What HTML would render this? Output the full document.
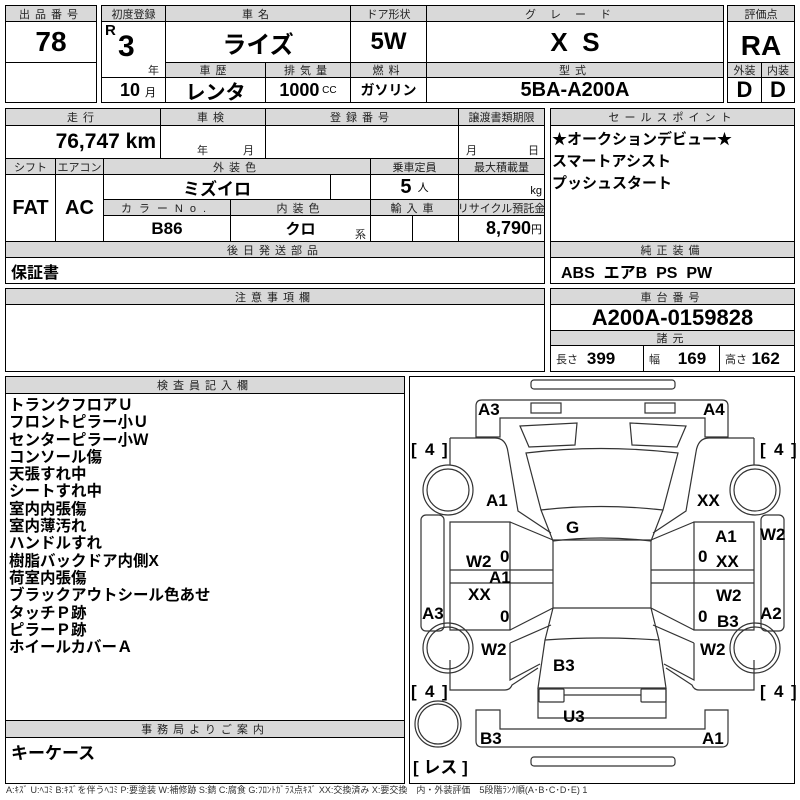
<!DOCTYPE html>
<html><head><meta charset="utf-8"><style>
body{margin:0;width:800px;height:800px;background:#fff;position:relative;overflow:hidden;font-family:"Liberation Sans","Noto Sans CJK JP",sans-serif;}
.b{position:absolute;border:1px solid #000;box-sizing:border-box;display:flex;align-items:center;justify-content:center;white-space:nowrap;}
.h{background:#d9d9d9;font-size:11px;letter-spacing:5px;color:#222;}
.v{font-weight:bold;font-family:"Liberation Sans Narrow","Liberation Sans","Noto Sans CJK JP",sans-serif;}
.t{position:absolute;white-space:nowrap;}
.s{font-size:11px;color:#222;}
svg text{font-family:"Liberation Sans","Noto Sans CJK JP",sans-serif;font-weight:bold;font-size:17px;}
</style></head><body>
<!-- top -->
<div class="b h" style="left:5px;top:5px;width:92px;height:17px">出品番号</div>
<div class="b v" style="left:5px;top:21px;width:92px;height:42px;font-size:28px">78</div>
<div class="b" style="left:5px;top:62px;width:92px;height:41px"></div>
<div class="b h" style="left:101px;top:5px;width:65px;height:17px;letter-spacing:0">初度登録</div>
<div class="b" style="left:101px;top:21px;width:65px;height:57px"></div>
<div class="t v" style="left:105px;top:22px;font-size:15px">R</div>
<div class="t v" style="left:118px;top:30px;font-size:30px">3</div>
<div class="t s" style="left:148px;top:62px">年</div>
<div class="b" style="left:101px;top:77px;width:65px;height:26px"></div>
<div class="t v" style="left:120px;top:80px;font-size:18px">10 <span style="font-size:11px;font-weight:normal">月</span></div>
<div class="b h" style="left:165px;top:5px;width:186px;height:17px">車名</div>
<div class="b v" style="left:165px;top:21px;width:186px;height:42px;font-size:24px">ライズ</div>
<div class="b h" style="left:350px;top:5px;width:77px;height:17px;letter-spacing:0">ドア形状</div>
<div class="b v" style="left:350px;top:21px;width:77px;height:42px;font-size:24px">5W</div>
<div class="b h" style="left:426px;top:5px;width:298px;height:17px;letter-spacing:14px">グレード</div>
<div class="b v" style="left:426px;top:21px;width:298px;height:42px;font-size:26px">X&nbsp;&nbsp;S</div>
<div class="b h" style="left:165px;top:62px;width:101px;height:16px">車歴</div>
<div class="b h" style="left:265px;top:62px;width:86px;height:16px">排気量</div>
<div class="b h" style="left:350px;top:62px;width:77px;height:16px">燃料</div>
<div class="b h" style="left:426px;top:62px;width:298px;height:16px">型式</div>
<div class="b v" style="left:165px;top:77px;width:101px;height:26px;font-size:20px">レンタ</div>
<div class="b v" style="left:265px;top:77px;width:86px;height:26px;font-size:18px">1000 <span style="font-size:10px;font-weight:normal">&nbsp;CC</span></div>
<div class="b v" style="left:350px;top:77px;width:77px;height:26px;font-size:14px">ガソリン</div>
<div class="b v" style="left:426px;top:77px;width:298px;height:26px;font-size:20px">5BA-A200A</div>
<div class="b h" style="left:727px;top:5px;width:68px;height:17px;letter-spacing:0">評価点</div>
<div class="b v" style="left:727px;top:21px;width:68px;height:42px;font-size:28px;padding-top:8px">RA</div>
<div class="b h" style="left:727px;top:62px;width:35px;height:16px;letter-spacing:0">外装</div>
<div class="b h" style="left:761px;top:62px;width:34px;height:16px;letter-spacing:0">内装</div>
<div class="b v" style="left:727px;top:77px;width:35px;height:26px;font-size:22px">D</div>
<div class="b v" style="left:761px;top:77px;width:34px;height:26px;font-size:22px">D</div>

<!-- section 2 -->
<div class="b h" style="left:5px;top:108px;width:156px;height:18px">走行</div>
<div class="b h" style="left:160px;top:108px;width:106px;height:18px">車検</div>
<div class="b h" style="left:265px;top:108px;width:194px;height:18px">登録番号</div>
<div class="b h" style="left:458px;top:108px;width:87px;height:18px;letter-spacing:0">譲渡書類期限</div>
<div class="b v" style="left:5px;top:125px;width:156px;height:34px;font-size:21px;justify-content:flex-end;padding-right:4px">76,747 km</div>
<div class="b" style="left:160px;top:125px;width:106px;height:34px"></div>
<div class="t s" style="left:197px;top:142px">年</div><div class="t s" style="left:243px;top:142px">月</div>
<div class="b" style="left:265px;top:125px;width:194px;height:34px"></div>
<div class="b" style="left:458px;top:125px;width:87px;height:34px"></div>
<div class="t s" style="left:466px;top:142px">月</div><div class="t s" style="left:528px;top:142px">日</div>
<div class="b h" style="left:5px;top:158px;width:51px;height:17px;letter-spacing:0">シフト</div>
<div class="b h" style="left:55px;top:158px;width:49px;height:17px;letter-spacing:0">エアコン</div>
<div class="b h" style="left:103px;top:158px;width:268px;height:17px">外装色</div>
<div class="b h" style="left:370px;top:158px;width:89px;height:17px;letter-spacing:0">乗車定員</div>
<div class="b h" style="left:458px;top:158px;width:87px;height:17px;letter-spacing:0">最大積載量</div>
<div class="b v" style="left:5px;top:174px;width:51px;height:68px;font-size:20px">FAT</div>
<div class="b v" style="left:55px;top:174px;width:49px;height:68px;font-size:20px">AC</div>
<div class="b v" style="left:103px;top:174px;width:228px;height:26px;font-size:17px">ミズイロ</div>
<div class="b" style="left:330px;top:174px;width:41px;height:26px"></div>
<div class="b v" style="left:370px;top:174px;width:89px;height:26px;font-size:20px">5 <span style="font-size:11px;font-weight:normal">&nbsp;&nbsp;人</span></div>
<div class="b" style="left:458px;top:174px;width:87px;height:26px;justify-content:flex-end;font-size:11px;padding:8px 2px 0 0">kg</div>
<div class="b h" style="left:103px;top:199px;width:128px;height:17px;letter-spacing:7px">カラーNo.</div>
<div class="b h" style="left:230px;top:199px;width:141px;height:17px">内装色</div>
<div class="b h" style="left:370px;top:199px;width:89px;height:17px">輸入車</div>
<div class="b h" style="left:458px;top:199px;width:87px;height:17px;letter-spacing:0">リサイクル預託金</div>
<div class="b v" style="left:103px;top:215px;width:128px;height:27px;font-size:17px">B86</div>
<div class="b v" style="left:230px;top:215px;width:141px;height:27px;font-size:15px">クロ</div>
<div class="t s" style="left:355px;top:226px">系</div>
<div class="b" style="left:370px;top:215px;width:43px;height:27px"></div>
<div class="b" style="left:412px;top:215px;width:47px;height:27px"></div>
<div class="b v" style="left:458px;top:215px;width:87px;height:27px;font-size:18px;justify-content:flex-end;padding-right:2px">8,790<span style="font-size:11px;font-weight:normal">円</span></div>
<div class="b h" style="left:5px;top:241px;width:540px;height:17px">後日発送部品</div>
<div class="b" style="left:5px;top:257px;width:540px;height:27px;justify-content:flex-start;padding-left:5px;font-size:16px;font-weight:bold">保証書</div>

<!-- sales point -->
<div class="b h" style="left:550px;top:108px;width:245px;height:18px">セールスポイント</div>
<div class="b" style="left:550px;top:125px;width:245px;height:117px"></div>
<div class="t" style="left:552px;top:129px;font-size:15px;font-weight:bold;line-height:22px">★オークションデビュー★<br>スマートアシスト<br>プッシュスタート</div>
<div class="b h" style="left:550px;top:241px;width:245px;height:17px">純正装備</div>
<div class="b v" style="left:550px;top:257px;width:245px;height:27px;font-size:16px;justify-content:flex-start;padding-left:10px">ABS&nbsp; エアB&nbsp; PS&nbsp; PW</div>

<div class="b h" style="left:5px;top:288px;width:540px;height:17px">注意事項欄</div>
<div class="b" style="left:5px;top:304px;width:540px;height:68px"></div>

<div class="b h" style="left:550px;top:288px;width:245px;height:17px">車台番号</div>
<div class="b v" style="left:550px;top:304px;width:245px;height:27px;font-size:22px">A200A-0159828</div>
<div class="b h" style="left:550px;top:330px;width:245px;height:16px">諸元</div>
<div class="b" style="left:550px;top:345px;width:94px;height:27px;justify-content:flex-start;padding-left:5px"><span class="s">長さ</span>&nbsp;&nbsp;<b style="font-size:17px">399</b></div>
<div class="b" style="left:643px;top:345px;width:77px;height:27px;justify-content:flex-start;padding-left:5px"><span class="s">幅</span>&nbsp;&nbsp;&nbsp;&nbsp;<b style="font-size:17px">169</b></div>
<div class="b" style="left:719px;top:345px;width:76px;height:27px;justify-content:flex-start;padding-left:5px"><span class="s">高さ</span>&nbsp;<b style="font-size:17px">162</b></div>

<!-- inspector -->
<div class="b h" style="left:5px;top:376px;width:400px;height:18px">検査員記入欄</div>
<div class="b" style="left:5px;top:393px;width:400px;height:328px"></div>
<div class="t" style="left:9px;top:397px;font-size:15.5px;font-weight:bold;line-height:17.3px">トランクフロアＵ<br>フロントピラー小Ｕ<br>センターピラー小Ｗ<br>コンソール傷<br>天張すれ中<br>シートすれ中<br>室内内張傷<br>室内薄汚れ<br>ハンドルすれ<br>樹脂バックドア内側X<br>荷室内張傷<br>ブラックアウトシール色あせ<br>タッチＰ跡<br>ピラーＰ跡<br>ホイールカバーＡ</div>
<div class="b h" style="left:5px;top:720px;width:400px;height:18px">事務局よりご案内</div>
<div class="b" style="left:5px;top:737px;width:400px;height:47px;align-items:flex-start;justify-content:flex-start;padding:1px 5px;font-size:17px;font-weight:bold">キーケース</div>

<!-- diagram -->
<div class="b" style="left:409px;top:376px;width:386px;height:408px"></div>
<svg style="position:absolute;left:0;top:0" width="800" height="800" fill="none" stroke="#333" stroke-width="1.2">
<rect x="531" y="380" width="144" height="9" rx="3"/>
<path d="M482 400 H722 Q728 400 728 406 V437 H705 V418 H500 V437 H476 V406 Q476 400 482 400Z"/>
<rect x="531" y="403" width="30" height="10"/><rect x="645" y="403" width="30" height="10"/>
<path d="M520 426 L577 423 L575 445 L529 447Z M630 423 L686 426 L677 447 L632 445Z"/>
<path d="M526 453 Q600 444 678 453 L663 510 Q600 503 541 510Z"/>
<path d="M541 510 L553 541 Q600 535 651 541 L663 510"/>
<path d="M450 438 H495 Q506 438 508 452 L518 511 L551 533"/>
<path d="M450 438 V465"/>
<path d="M754 438 H709 Q698 438 696 452 L686 511 L653 533"/>
<path d="M754 438 V465"/>
<circle cx="448" cy="490" r="25"/><circle cx="448" cy="490" r="21"/>
<circle cx="755" cy="490" r="25"/><circle cx="755" cy="490" r="21"/>
<circle cx="448" cy="648" r="25"/><circle cx="448" cy="648" r="21"/>
<circle cx="755" cy="648" r="25"/><circle cx="755" cy="648" r="21"/>
<circle cx="438" cy="724" r="23"/><circle cx="438" cy="724" r="20"/>
<rect x="421" y="515" width="23" height="116" rx="5"/><rect x="761" y="515" width="23" height="116" rx="5"/>
<path d="M450 522 H510 V630 H450Z M450 570 H553 M450 583 H553 M510 522 L553 540 M510 630 L553 608"/>
<path d="M754 522 H694 V630 H754Z M754 570 H651 M754 583 H651 M694 522 L651 540 M694 630 L651 608"/>
<path d="M553 540 H651 V608 H553Z"/>
<path d="M553 608 L545 640 Q600 636 659 640 L651 608 M545 640 L538 688 H666 L659 640"/>
<path d="M510 643 L551 625 M510 643 V680 L540 664 M694 643 L653 625 M694 643 V680 L664 664"/>
<path d="M450 660 V690 H505 Q510 690 512 685 L538 668"/>
<path d="M754 660 V690 H699 Q694 690 692 685 L666 668"/>
<path d="M538 688 V718 H666 V688"/>
<rect x="539" y="689" width="25" height="13" rx="1"/><rect x="641" y="689" width="25" height="13" rx="1"/>
<path d="M564 695 H641"/>
<path d="M482 747 H722 Q728 747 728 741 V710 H705 V729 H500 V710 H476 V741 Q476 747 482 747Z"/>
<rect x="531" y="757" width="144" height="9" rx="3"/>
<g fill="#000" stroke="none">
<text x="478" y="415">A3</text><text x="703" y="415">A4</text>
<text x="486" y="506">A1</text><text x="697" y="506">XX</text>
<text x="566" y="533">G</text>
<text x="715" y="542">A1</text><text x="760" y="540">W2</text>
<text x="466" y="567">W2</text><text x="716" y="567">XX</text>
<text x="489" y="583">A1</text>
<text x="468" y="600">XX</text><text x="716" y="601">W2</text>
<text x="422" y="619">A3</text><text x="760" y="619">A2</text>
<text x="717" y="627">B3</text>
<text x="481" y="655">W2</text><text x="700" y="655">W2</text>
<text x="553" y="671">B3</text>
<text x="563" y="722">U3</text>
<text x="480" y="744">B3</text><text x="702" y="744">A1</text>
<text x="411" y="455" font-weight="normal">[</text><text x="425" y="455">4</text><text x="442" y="455" font-weight="normal">]</text>
<text x="760" y="455" font-weight="normal">[</text><text x="774" y="455">4</text><text x="791" y="455" font-weight="normal">]</text>
<text x="411" y="697" font-weight="normal">[</text><text x="425" y="697">4</text><text x="442" y="697" font-weight="normal">]</text>
<text x="760" y="697" font-weight="normal">[</text><text x="774" y="697">4</text><text x="791" y="697" font-weight="normal">]</text>
<text x="413" y="773" font-size="14" font-weight="normal">[ レス ]</text>
<text x="500" y="562" font-size="11" font-weight="normal">0</text><text x="500" y="622" font-size="11" font-weight="normal">0</text>
<text x="698" y="562" font-size="11" font-weight="normal">0</text><text x="698" y="622" font-size="11" font-weight="normal">0</text>
</g>
</svg>
<div class="t" style="left:6px;top:783px;font-size:9px;color:#333">A:ｷｽﾞ U:ﾍｺﾐ B:ｷｽﾞを伴うﾍｺﾐ P:要塗装 W:補修跡 S:錆 C:腐食 G:ﾌﾛﾝﾄｶﾞﾗｽ点ｷｽﾞ XX:交換済み X:要交換　内・外装評価　5段階ﾗﾝｸ順(A･B･C･D･E) 1</div>
</body></html>
